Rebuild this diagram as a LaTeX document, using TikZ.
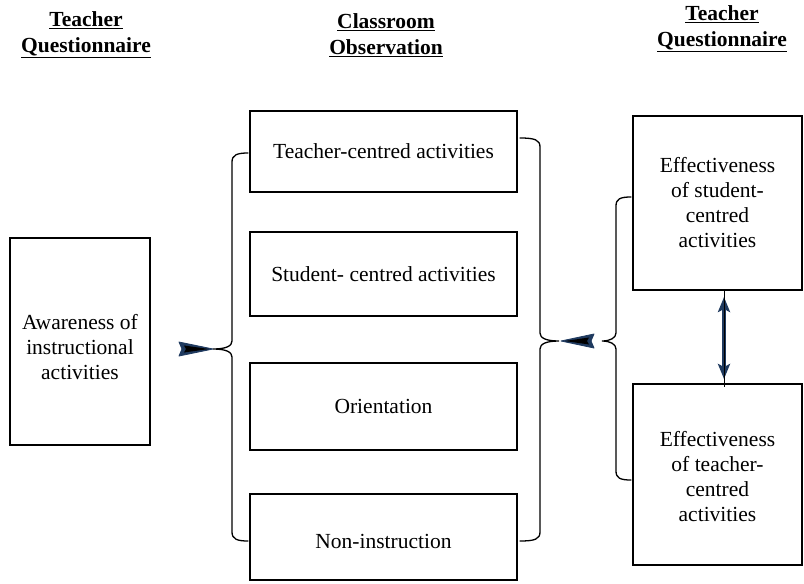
\documentclass[tikz,border=0pt]{standalone}
\usepackage{fontspec}
\setmainfont{Liberation Serif}
\usetikzlibrary{arrows.meta,calc}
\definecolor{navyc}{HTML}{1F3A5F}
\begin{document}
\begin{tikzpicture}[x=1pt,y=-1pt,
  box/.style={draw, line width=2.6pt, align=center, inner sep=0pt, font=\fontsize{21.5}{25}\selectfont},
  txt/.style={align=center, inner sep=0pt, font=\fontsize{21.5}{25}\selectfont},
  head/.style={align=center, inner sep=0pt, font=\fontsize{21.5}{26}\selectfont\bfseries},
  brace/.style={line width=1.3pt, line cap=round},
  wedgeout/.style={fill=navyc, draw=navyc, line width=0.8pt, line join=round},
  wedgein/.style={fill=black},
  dblarrow/.style={line width=4.5pt, navyc, {Stealth[length=15pt, width=12pt, inset=3pt]}-{Stealth[length=15pt, width=12pt, inset=3pt]}}
]
\useasboundingbox (0,0) rectangle (804,584);

% headers
\node[head] (h1) at (86,35) {\underline{Teacher}\\\underline{Questionnaire}};
\node[head] (h2) at (386,35) {\underline{Classroom}\\\underline{Observation}};
\node[head] (h3) at (722,29) {\underline{Teacher}\\\underline{Questionnaire}};

% left box
\node[box, minimum width=140pt, minimum height=207pt] (aw) at (80,341.5) {};
\node[txt] (awt) at (80,347) {Awareness of\\instructional\\activities};

% middle boxes
\node[box, minimum width=267pt, minimum height=81pt] (b1) at (383.5,151.5) {Teacher-centred activities};
\node[box, minimum width=267pt, minimum height=84pt] (b2) at (383.5,274) {Student- centred activities};
\node[box, minimum width=267pt, minimum height=87pt] (b3) at (383.5,406.5) {Orientation};
\node[box, minimum width=267pt, minimum height=86pt] (b4) at (383.5,537) {};
\node[txt] (b4t) at (383.5,541) {Non-instruction};

% right boxes
\node[box, minimum width=169pt, minimum height=174pt] (r1) at (717.5,203) {Effectiveness\\of student-\\centred\\activities};
\node[box, minimum width=169pt, minimum height=181pt] (r2) at (717.5,474.5) {};
\node[txt] (r2t) at (717.5,477) {Effectiveness\\of teacher-\\centred\\activities};

% brace cusps
\coordinate (cL) at (213,349);
\coordinate (cM) at (559,341);
\coordinate (cR) at (602,341);

% left brace
\draw[brace] (248,153) .. controls (237,153) and (232,155) .. (232,162) -- (232,341)
  .. controls (232,346) and (226,349) .. (cL)
  .. controls (226,349) and (232,352) .. (232,357) -- (232,532)
  .. controls (232,539) and (237,541) .. (248,541);

% middle brace
\draw[brace] (520,138) .. controls (535,138) and (540,140) .. (540,147) -- (540,333)
  .. controls (540,338) and (546,341) .. (cM)
  .. controls (546,341) and (540,344) .. (540,349) -- (540,532)
  .. controls (540,539) and (535,541) .. (520,541);

% right brace
\draw[brace] (631,197) .. controls (620,197) and (616,199) .. (616,206) -- (616,333)
  .. controls (616,338) and (610,341) .. (cR)
  .. controls (610,341) and (616,344) .. (616,349) -- (616,471)
  .. controls (616,478) and (620,480) .. (631,480);

% arrow wedges (pointing at the brace cusps)
\path[wedgeout] (cL) -- ($(cL)+(-34,-7)$) -- ($(cL)+(-31,0)$) -- ($(cL)+(-34,7)$) -- cycle;
\path[wedgein] ($(cL)+(-4,0)$) -- ($(cL)+(-29,-3.5)$) -- ($(cL)+(-27,0)$) -- ($(cL)+(-29,3.5)$) -- cycle;
\coordinate (tR) at (561,341);
\path[wedgeout] (tR) -- ($(tR)+(33,-7)$) -- ($(tR)+(30,0)$) -- ($(tR)+(33,7)$) -- cycle;
\path[wedgein] ($(tR)+(4,0)$) -- ($(tR)+(28,-3.5)$) -- ($(tR)+(26,0)$) -- ($(tR)+(28,3.5)$) -- cycle;

\coordinate (da1) at (724,297);
\coordinate (da2) at (724,379);
\draw[dblarrow] (da1) -- (da2);
\draw[line width=0.8pt, black] ([yshift=8pt]da1) -- ([yshift=-8pt]da2);
\end{tikzpicture}
\end{document}
